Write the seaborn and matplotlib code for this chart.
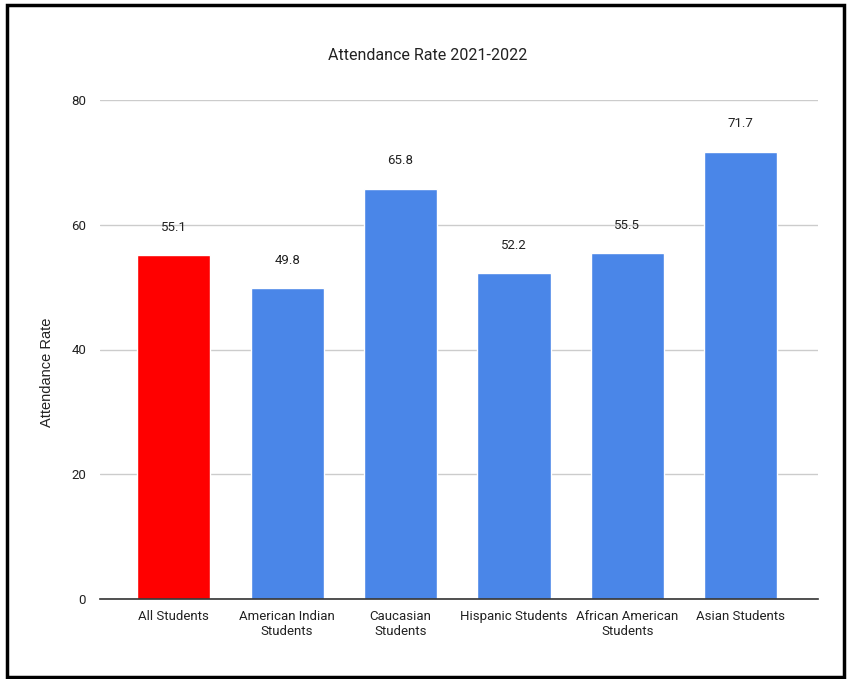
import matplotlib
matplotlib.use("Agg")
import matplotlib.pyplot as plt
import seaborn as sns
import pandas as pd
from matplotlib.patches import Rectangle

categories = ["All Students", "American Indian\nStudents", "Caucasian\nStudents",
              "Hispanic Students", "African American\nStudents", "Asian Students"]
values = [55.1, 49.8, 65.8, 52.2, 55.5, 71.7]
colors = ["#FF0000", "#4A86E8", "#4A86E8", "#4A86E8", "#4A86E8", "#4A86E8"]
yticks = [0, 20, 40, 60, 80]

df = pd.DataFrame({"cat": categories, "val": values})

sns.set_theme(style="white")
plt.rcParams['font.family'] = ['Roboto', 'DejaVu Sans']

fig = plt.figure(figsize=(8.51, 6.79), dpi=100)
ax = fig.add_axes([100/851, 1 - 599/679, (818-100)/851, (599-100)/679])

sns.barplot(data=df, x="cat", y="val", hue="cat", palette=colors, legend=False,
            width=0.645, ax=ax, saturation=1)

ax.set_ylim(0, 80)
ax.set_xlim(-0.65, 5.68)
ax.set_yticks(yticks)
ax.set_yticklabels([str(t) for t in yticks], fontsize=9.5, color="#222222")
ax.tick_params(axis="x", length=0, labelsize=9.5, labelcolor="#222222", pad=8)
ax.tick_params(axis="y", length=0, pad=10)
ax.yaxis.grid(True, color="#CCCCCC", linewidth=1)
ax.set_axisbelow(True)
for s in ["top", "right", "left"]:
    ax.spines[s].set_visible(False)
ax.spines["bottom"].set_color("#333333")
ax.spines["bottom"].set_linewidth(1.2)
ax.set_xlabel("")
ax.set_ylabel("Attendance Rate", fontsize=10.5, family=["Liberation Sans"], color="#222222")
ax.yaxis.set_label_coords((54 - 100) / (818 - 100), (599 - 372) / (599 - 100))

for i, v in enumerate(values):
    ax.annotate(f"{v}", xy=(i, v), xytext=(0, 20), textcoords="offset points",
                ha="center", va="center", fontsize=9.5, color="#222222")

fig.text(428/851, 1 - 56/679, "Attendance Rate 2021-2022", ha="center", va="center",
         fontsize=11.5, color="#222222")

fig.patches.append(Rectangle((6.5/851, 1 - 677/679), (844-6.5)/851, (677-5)/679,
                             transform=fig.transFigure, fill=False, edgecolor="black",
                             linewidth=2.5, zorder=10))

fig.savefig("out.png", dpi=100, facecolor="white")
